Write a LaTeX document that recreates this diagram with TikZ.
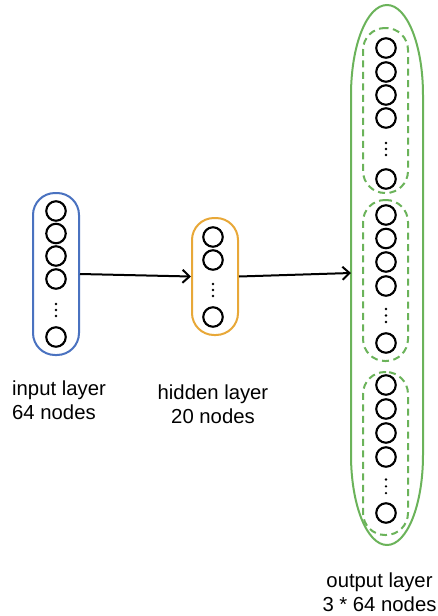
\documentclass[tikz,border=0pt]{standalone}
\usepackage{fontspec}
\setmainfont{Liberation Sans}
\usetikzlibrary{arrows.meta}
\definecolor{inblue}{HTML}{4A72C0}
\definecolor{hidorange}{HTML}{E8A838}
\definecolor{outgreen}{HTML}{6BB35A}
\tikzset{
  neuron/.style={circle,draw=black,line width=2.1pt,minimum size=19.5pt,inner sep=0pt},
  layerbox/.style={draw,line width=2pt,rounded corners=22pt,minimum width=46pt,inner sep=0pt},
  groupbox/.style={draw=outgreen,line width=2pt,dash pattern=on 7pt off 4.5pt,rounded corners=22pt,minimum width=45pt,inner sep=0pt},
  conn/.style={line width=2pt,-{Straight Barb[length=7pt,width=13pt,line width=2pt]}},
  lbl/.style={font=\fontsize{20.3}{24}\selectfont,inner sep=0pt},
  dotmark/.style={circle,fill=black,inner sep=0pt,minimum size=2.6pt}
}
\newcommand{\threedots}[3]{%
  \node[dotmark] at (#1,#2) {};
  \node[dotmark] at (#1,#2+#3) {};
  \node[dotmark] at (#1,#2+2*#3) {};
}
\begin{document}
\begin{tikzpicture}[x=1pt,y=-1pt]
\useasboundingbox (0,0) rectangle (438,616);

% input layer
\node[layerbox,draw=inblue,minimum height=162pt] (inp) at (56,274) {};
\foreach \y [count=\k] in {211,233.5,256,279,337} {
  \node[neuron] (i\k) at (56,\y) {};
}
\threedots{56}{304}{6}

% hidden layer
\node[layerbox,draw=hidorange,minimum height=117pt] (hid) at (215,276.5) {};
\foreach \y [count=\k] in {237,260,317} {
  \node[neuron] (h\k) at (213,\y) {};
}
\threedots{213}{284}{6}

% output layer outer shape
\coordinate (outW) at (351,273);
\draw[outgreen,line width=2pt]
  (351,95) .. controls (351,45) and (367,5) .. (387,5)
  .. controls (407,5) and (423,45) .. (423,95)
  -- (423,455) .. controls (423,505) and (407,545) .. (387,545)
  .. controls (367,545) and (351,505) .. (351,455) -- cycle;

% output groups
\node[groupbox,minimum height=165pt] (g1) at (385.5,110.5) {};
\node[groupbox,minimum height=161pt] (g2) at (385.5,280.5) {};
\node[groupbox,minimum height=163pt] (g3) at (385.5,453.5) {};
\foreach \y [count=\k] in {48,72,95,118,179} {
  \node[neuron] (a\k) at (386,\y) {};
}
\threedots{386}{143}{6}
\foreach \y [count=\k] in {215,238.5,262,286,343} {
  \node[neuron] (b\k) at (386,\y) {};
}
\threedots{386}{309}{6.5}
\foreach \y [count=\k] in {385,409,433,457,513} {
  \node[neuron] (c\k) at (386,\y) {};
}
\threedots{386}{479.5}{6.8}

% connectors
\draw[conn] (inp.east) -- (hid.west);
\draw[conn] (hid.east) -- (outW);

% labels
\node[lbl,align=left,anchor=west] (tin) at (12,400) {input layer\\64 nodes};
\node[lbl,align=center] (thid) at (213,404.5) {hidden layer\\20 nodes};
\node[lbl,align=center] (tout) at (379.5,592) {output layer\\3 * 64 nodes};
\end{tikzpicture}
\end{document}
